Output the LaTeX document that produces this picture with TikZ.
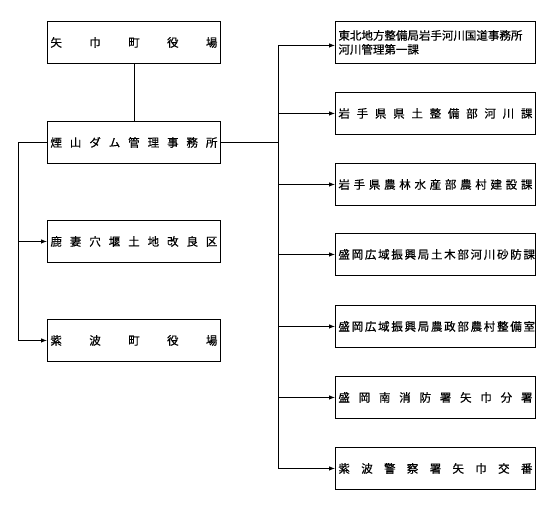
\documentclass[tikz,border=0pt]{standalone}
\usepackage{fontspec}
\newfontfamily\jp[FakeBold=0.6]{Noto Sans CJK JP}
\usetikzlibrary{arrows.meta}

\tikzset{
  orgbox/.style={draw, line width=0.9pt, inner sep=0pt, minimum height=42pt, anchor=north west,
    font=\jp\fontsize{11.5}{14}\selectfont},
  leftbox/.style={orgbox, minimum width=173pt},
  rightbox/.style={orgbox, minimum width=200pt},
  link/.style={line width=0.8pt},
  linkarrow/.style={link, -{Latex[length=6pt,width=4.5pt]}},
}
% evenly spread characters across a box
\newcommand{\spreadL}[1]{\makebox[167pt][s]{#1}}
\newcommand{\spreadR}[1]{\makebox[194pt][s]{#1}}

\begin{document}
\begin{tikzpicture}[x=1pt, y=-1pt] % pixel units, y grows downward

    \useasboundingbox (0,0) rectangle (549,512);

    % Left column
    \node[leftbox] (yahaba) at (47,21) {\spreadL{矢 巾 町 役 場}};
    \node[leftbox] (kemuri) at (47,121) {\spreadL{煙 山 ダ ム 管 理 事 務 所}};
    \node[leftbox] (shika) at (47,220) {\spreadL{鹿 妻 穴 堰 土 地 改 良 区}};
    \node[leftbox] (shiwa) at (47,319) {\spreadL{紫 波 町 役 場}};

    % Right column
    \node[rightbox, text width=194pt, align=left] (kasen) at (335,21)
        {東北地方整備局岩手河川国道事務所\\河川管理第一課};
    \node[rightbox] (doboku) at (335,92) {\spreadR{岩 手 県 県 土 整 備 部 河 川 課}};
    \node[rightbox] (noson) at (335,163) {\spreadR{岩 手 県 農 林 水 産 部 農 村 建 設 課}};
    \node[rightbox] (sabo) at (335,233) {\spreadR{盛 岡 広 域 振 興 局 土 木 部 河 川 砂 防 課}};
    \node[rightbox] (nosei) at (335,305) {\spreadR{盛 岡 広 域 振 興 局 農 政 部 農 村 整 備 室}};
    \node[rightbox] (shobo) at (335,376) {\spreadR{盛 岡 南 消 防 署 矢 巾 分 署}};
    \node[rightbox] (koban) at (335,447) {\spreadR{紫 波 警 察 署 矢 巾 交 番}};

    % Connectors
    \draw[link] (yahaba.south) -- (kemuri.north);

    \coordinate (lbus) at ([xshift=-29pt]kemuri.west);
    \draw[linkarrow] (kemuri.west) -- (lbus) |- (shika.west);
    \draw[linkarrow] (lbus) |- (shiwa.west);

    \coordinate (rbus) at ([xshift=57pt]kemuri.east);
    \draw[link] (kemuri.east) -- (rbus);
    \draw[linkarrow] (rbus) |- ([yshift=-3pt]kasen.west);
    \foreach \dest in {doboku, noson, sabo, nosei, shobo, koban}
        \draw[linkarrow] (rbus) |- (\dest.west);

\end{tikzpicture}
\end{document}
